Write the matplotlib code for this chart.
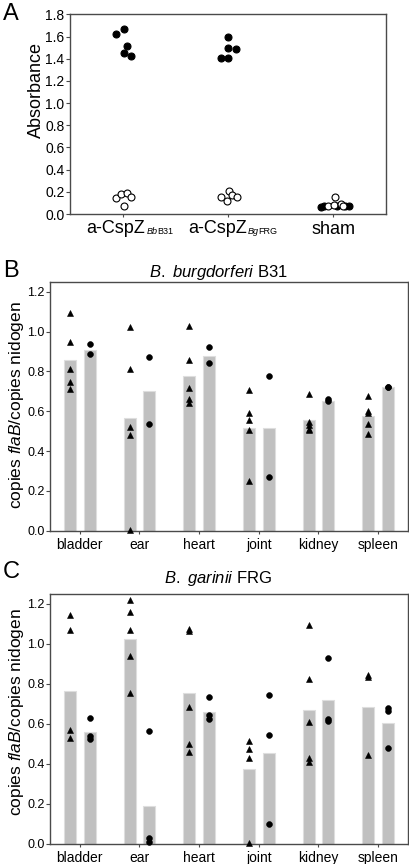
import numpy as np
import matplotlib
matplotlib.use('Agg')
import matplotlib.pyplot as plt

plt.rcParams['font.family'] = ['Liberation Sans', 'DejaVu Sans']
plt.rcParams['mathtext.fontset'] = 'custom'
plt.rcParams['mathtext.rm'] = 'Liberation Sans'
plt.rcParams['mathtext.it'] = 'Liberation Sans:italic'

# ---- panel A data ----
a_groups = ['BbB31', 'BgFRG', 'sham']
a_filled = [[1.62, 1.67, 1.52, 1.456, 1.426],
            [1.595, 1.495, 1.486, 1.405, 1.405],
            [0.065, 0.07, 0.07, 0.075, 0.07]]
a_open = [[0.145, 0.178, 0.19, 0.154, 0.075],
          [0.154, 0.208, 0.17, 0.154, 0.115],
          [0.075, 0.08, 0.15, 0.09, 0.075]]
# horizontal scatter of the dots
a_filled_jit = [[-0.066, 0.009, 0.045, 0.009, 0.083],
                [0.003, 0.003, 0.076, -0.069, 0.003],
                [-0.114, -0.085, 0.038, 0.114, 0.152]]
a_open_jit = [[-0.06, -0.012, 0.045, 0.083, 0.009],
              [-0.069, 0.007, 0.041, 0.088, -0.012],
              [-0.047, 0.009, 0.019, 0.076, 0.095]]

# ---- panels B / C data ----
organs = ['bladder', 'ear', 'heart', 'joint', 'kidney', 'spleen']

b_tri = [[1.094, 0.948, 0.811, 0.744, 0.709],
         [1.023, 0.811, 0.522, 0.48, 0.003],
         [1.03, 0.855, 0.717, 0.66, 0.639],
         [0.706, 0.592, 0.555, 0.508, 0.247],
         [0.687, 0.545, 0.53, 0.512, 0.505],
         [0.674, 0.602, 0.589, 0.535, 0.485]]
b_tri_bar = [0.856, 0.564, 0.776, 0.518, 0.555, 0.575]
b_circ = [[0.936, 0.886],
          [0.873, 0.537],
          [0.923, 0.843],
          [0.776, 0.268],
          [0.662, 0.65],
          [0.719, 0.719]]
b_circ_bar = [0.906, 0.701, 0.878, 0.517, 0.65, 0.719]

c_tri = [[1.144, 1.068, 0.571, 0.529],
         [1.219, 1.16, 1.072, 0.938, 0.753],
         [1.075, 1.063, 0.684, 0.501, 0.462],
         [0.514, 0.476, 0.431, 0.003],
         [1.093, 0.825, 0.609, 0.432, 0.412],
         [0.846, 0.833, 0.446]]
c_tri_bar = [0.763, 1.025, 0.753, 0.376, 0.671, 0.683]
c_circ = [[0.629, 0.538, 0.526],
          [0.566, 0.028, 0.012],
          [0.734, 0.646, 0.624],
          [0.743, 0.546, 0.098],
          [0.93, 0.624, 0.614],
          [0.679, 0.666, 0.479]]
c_circ_bar = [0.558, 0.192, 0.659, 0.457, 0.72, 0.604]

W, H = 410, 864
fig = plt.figure(figsize=(W / 100, H / 100), dpi=100)


def px_axes(left, top, right, bottom):
    return fig.add_axes([left / W, 1 - bottom / H, (right - left) / W, (bottom - top) / H])


spine_col = '#4a4a4a'


def style_axes(ax):
    for s in ax.spines.values():
        s.set_color(spine_col)
        s.set_linewidth(1.0)
    ax.tick_params(color=spine_col, width=0.8, length=3, direction='out')


# ---- panel A ----
axA = px_axes(70, 14.5, 386, 214)
style_axes(axA)
for i in range(3):
    xs = i + np.array(a_filled_jit[i])
    axA.plot(xs, a_filled[i], 'o', ms=5, mfc='black', mec='black', mew=0.8, ls='none', clip_on=False)
for i in range(3):
    xs = i + np.array(a_open_jit[i])
    axA.plot(xs, a_open[i], 'o', ms=5, mfc='white', mec='black', mew=0.8, ls='none', clip_on=False)
axA.set_xlim(-0.5, 2.5)
axA.set_ylim(0, 1.8)
axA.set_yticks(np.arange(0, 1.81, 0.2))
axA.set_yticklabels([f'{v:.1f}' for v in np.arange(0, 1.81, 0.2)], fontsize=10)
axA.set_xticks([0, 1, 2])
axA.set_xticklabels(['', '', 'sham'], fontsize=13)
axA.tick_params(axis='x', length=2, pad=3)
axA.tick_params(axis='y', pad=1)

# tick labels with small subscripts
for i, (sub_it, sub_rm, shift) in enumerate([('Bb', 'B31', 16.5), ('Bg', 'FRG', 13.5)]):
    t_main = axA.annotate('a-CspZ', xy=(i, 0), xycoords=('data', 'axes fraction'),
                          xytext=(shift, -4), textcoords='offset points',
                          ha='right', va='top', fontsize=13)
    t1 = axA.annotate(sub_it, xy=(1, 0), xycoords=t_main, xytext=(0.5, 0.5),
                      textcoords='offset points', ha='left', va='bottom',
                      fontsize=6.5, style='italic')
    axA.annotate(sub_rm, xy=(1, 0), xycoords=t1, ha='left', va='bottom', fontsize=6.5)

fig.text(36 / W, 1 - 90 / H, 'Absorbance', rotation=90, ha='center', va='center', fontsize=13)
fig.text(3 / W, 1 - 3 / H, 'A', ha='left', va='top', fontsize=17)


# ---- panels B and C ----
def organ_panel(ax, tri, tri_bar, circ, circ_bar):
    style_axes(ax)
    x = np.arange(len(organs))
    off = 0.165
    ax.bar(x - off, tri_bar, width=0.2, color='#c0c0c0', edgecolor='#dedede', linewidth=0.8, zorder=1)
    ax.bar(x + off, circ_bar, width=0.2, color='#c0c0c0', edgecolor='#dedede', linewidth=0.8, zorder=1)
    for i in range(len(organs)):
        ax.plot([x[i] - off] * len(tri[i]), tri[i], '^', ms=3.8, color='black', mew=0.4,
                ls='none', zorder=3, clip_on=False)
        ax.plot([x[i] + off] * len(circ[i]), circ[i], 'o', ms=4.2, color='black', mew=0.4,
                ls='none', zorder=3, clip_on=False)
    ax.set_xlim(-0.5, 5.5)
    ax.set_ylim(0, 1.25)
    ax.set_yticks(np.arange(0, 1.21, 0.2))
    ax.set_yticklabels([f'{v:.1f}' for v in np.arange(0, 1.21, 0.2)], fontsize=9)
    ax.set_xticks(x)
    ax.set_xticklabels(organs, fontsize=10)
    ax.tick_params(axis='x', length=2, pad=3)
    ax.tick_params(axis='y', pad=1)


axB = px_axes(50, 281.7, 408, 530.7)
organ_panel(axB, b_tri, b_tri_bar, b_circ, b_circ_bar)
axC = px_axes(50, 594, 408, 844)
organ_panel(axC, c_tri, c_tri_bar, c_circ, c_circ_bar)

ylab = r'copies $\mathit{flaB}$/copies nidogen'
fig.text(17 / W, 1 - 405 / H, ylab, rotation=90, ha='center', va='center', fontsize=12.5)
fig.text(17 / W, 1 - 712 / H, ylab, rotation=90, ha='center', va='center', fontsize=12.5)

fig.text(218 / W, 1 - 277.5 / H, r'$\mathit{B.\ burgdorferi}$ B31', ha='center', va='baseline', fontsize=12)
fig.text(218 / W, 1 - 583 / H, r'$\mathit{B.\ garinii}$ FRG', ha='center', va='baseline', fontsize=12)

fig.text(3 / W, 1 - 260 / H, 'B', ha='left', va='top', fontsize=17)
fig.text(3 / W, 1 - 561 / H, 'C', ha='left', va='top', fontsize=17)

fig.savefig('out.png', dpi=100)
